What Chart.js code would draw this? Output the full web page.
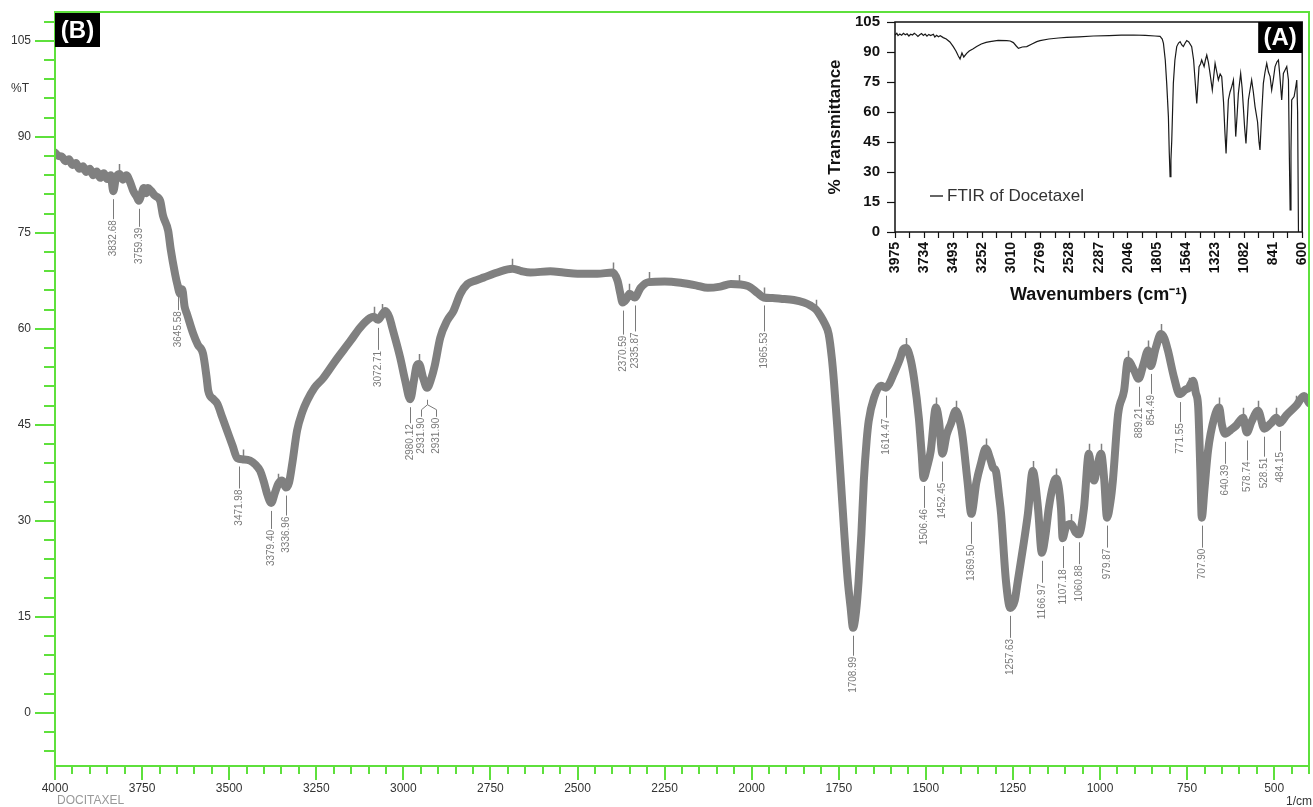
<!DOCTYPE html>
<html>
<head>
<meta charset="utf-8">
<title>FTIR of Docetaxel</title>
<script src="https://cdn.jsdelivr.net/npm/chart.js@4.4.1/dist/chart.umd.min.js"></script>
<style>
  html, body { margin: 0; padding: 0; background: #fff; }
  #wrap { position: relative; width: 1313px; height: 807px; overflow: hidden; }
  #mainChart { position: absolute; left: 0; top: 0; }
  #insetChart { position: absolute; left: 815px; top: 6px; }
</style>
</head>
<body>
<div id="wrap">
  <canvas id="mainChart" width="1313" height="807"></canvas>
  <canvas id="insetChart" width="508" height="308"></canvas>
</div>
<script>
// (B) main spectrum (cm-1, %T)
const mainWavenumber = [
  4000, 3990, 3980, 3970, 3960, 3950, 3940, 3930, 3920, 3910, 3900, 3890, 3880, 3870, 3860, 3850, 3840,
  3832.7, 3825, 3815, 3805, 3795, 3785, 3775, 3765, 3759.4, 3752, 3745, 3738, 3733, 3725, 3713, 3698,
  3690, 3675, 3668, 3655, 3649, 3641, 3635, 3628, 3621, 3603, 3590, 3575, 3565, 3560, 3545, 3534, 3520,
  3506, 3490, 3477, 3460, 3440, 3425, 3411, 3400, 3391, 3379.4, 3368, 3359, 3348, 3337, 3328, 3319, 3305,
  3290, 3276, 3255, 3230, 3195, 3152, 3124, 3095, 3085, 3072.7, 3060, 3052, 3040, 3032, 3009, 2995,
  2980.1, 2970, 2962, 2955, 2943, 2931.9, 2920, 2910, 2894, 2874, 2856, 2836, 2816, 2790, 2770, 2730,
  2687, 2660, 2635, 2578, 2540, 2500, 2443, 2399, 2385, 2377, 2370.6, 2360, 2351, 2335.9, 2319, 2296,
  2250, 2204, 2160, 2126, 2090, 2060, 2011, 1983, 1965.5, 1940, 1917, 1879, 1850, 1830, 1815, 1802,
  1790, 1779, 1770, 1764, 1754, 1744, 1734, 1724, 1716, 1709, 1700, 1693, 1685, 1678, 1670, 1664, 1649,
  1629, 1614.5, 1605, 1592, 1575, 1565, 1557, 1545, 1534, 1520, 1512, 1506.5, 1496, 1486, 1471, 1462,
  1452.5, 1440, 1428, 1414, 1400, 1394, 1380, 1369.5, 1355, 1342, 1328, 1314, 1307, 1299, 1290, 1284,
  1270, 1257.6, 1245, 1236, 1221, 1207, 1193, 1178, 1167, 1156, 1147, 1135, 1126, 1112, 1107.2, 1098,
  1083, 1070, 1060.9, 1046, 1032, 1024, 1017, 1008, 997, 988, 979.9, 970, 963, 948, 931, 920, 902,
  889.2, 875, 862, 854.5, 840, 825, 815, 805, 787, 771.6, 755, 745, 733, 725, 718, 712, 707.9, 700, 690,
  672, 658, 650, 640.4, 625, 609, 589, 578.7, 565, 546, 528.5, 510, 494, 484.2, 465, 437, 414, 400
];
const mainTransmittance = [
  87.5, 87.0, 86.9, 86.2, 86.5, 85.6, 85.9, 85.0, 85.4, 84.5, 85.0, 84.0, 84.6, 83.6, 84.3, 83.4, 84.0,
  81.5, 83.6, 84.2, 83.3, 84.0, 83.0, 81.5, 80.6, 80.0, 81.0, 82.0, 81.2, 82.0, 81.6, 80.8, 80.0,
  77.7, 75.3, 72.5, 68.5, 67.0, 65.5, 66.2, 63.5, 62.3, 59.2, 57.5, 56.1, 52.5, 50.3, 49.0, 48.3, 46.2,
  44.1, 41.7, 39.8, 39.6, 39.4, 38.8, 37.8, 36.0, 34.2, 32.8, 34.5, 35.8, 36.3, 35.2, 36.0, 38.9, 44.1,
  47.0, 48.8, 50.8, 52.3, 55.0, 58.1, 60.2, 61.7, 61.9, 61.4, 62.3, 62.8, 61.8, 60.2, 55.5, 52.0,
  49.0, 51.8, 54.2, 54.5, 52.3, 50.8, 52.2, 54.2, 58.6, 61.3, 62.8, 65.5, 67.0, 67.6, 68.0, 68.8,
  69.4, 69.0, 68.8, 69.0, 68.8, 68.6, 68.6, 68.8, 67.5, 65.5, 64.1, 64.6, 65.5, 64.9, 66.4, 67.3,
  67.4, 67.2, 66.8, 66.4, 66.6, 67.0, 66.7, 65.6, 64.9, 64.8, 64.7, 64.5, 64.1, 63.6, 63.0, 62.0,
  60.8, 59.2, 55.5, 51.9, 44.5, 36.3, 28.0, 20.6, 16.5, 13.3, 16.0, 20.6, 28.0, 36.3, 42.5, 45.6, 49.2,
  51.1, 50.8, 51.4, 53.0, 55.2, 56.8, 57.0, 55.5, 52.3, 46.0, 40.5, 36.7, 38.5, 40.9, 47.7, 45.5,
  40.5, 43.5, 45.2, 47.2, 45.0, 43.0, 36.0, 31.1, 36.0, 38.9, 41.3, 39.5, 38.3, 37.8, 34.0, 31.1,
  20.6, 16.4, 17.5, 20.6, 25.8, 31.1, 37.8, 32.0, 25.0, 28.0, 32.0, 35.5, 36.6, 32.0, 27.3, 29.0,
  29.5, 28.2, 27.9, 32.0, 40.5, 37.5, 36.3, 38.5, 40.5, 36.5, 30.5, 33.0, 36.3, 46.7, 50.3, 55.0, 53.5,
  52.2, 54.5, 56.6, 54.2, 57.0, 59.2, 58.5, 56.6, 52.3, 49.8, 50.5, 50.8, 51.9, 50.0, 47.7, 38.0, 30.5, 35.0, 40.9,
  46.1, 47.7, 45.0, 43.6, 44.2, 44.9, 46.1, 43.8, 45.5, 47.2, 44.4, 45.2, 46.1, 45.3, 46.5, 48.0, 49.5, 48.4
];

// (A) inset spectrum
const insetWavenumber = [
  3975, 3960, 3950, 3935, 3920, 3905, 3890, 3875, 3860, 3845, 3830, 3815, 3800, 3785, 3770, 3755, 3740,
  3725, 3710, 3695, 3680, 3657, 3645, 3630, 3615, 3600, 3575, 3550, 3520,
  3492, 3470, 3450, 3436, 3420, 3405, 3381, 3360, 3330, 3298, 3260, 3220, 3188, 3120, 3049, 3020, 2994,
  2970, 2952, 2920, 2883, 2840, 2800, 2773, 2700, 2620, 2552, 2450, 2331, 2200, 2100, 1999, 1900, 1820,
  1778, 1760, 1750, 1735, 1723, 1709, 1702, 1695, 1688, 1681, 1668, 1655, 1640, 1625, 1612, 1598, 1585,
  1570, 1557, 1540, 1516, 1500, 1488, 1474, 1463, 1455, 1443, 1433, 1413, 1402, 1391, 1378, 1364, 1345,
  1333, 1322, 1308, 1295, 1280, 1267, 1252, 1240, 1231, 1220, 1212, 1198, 1184, 1170, 1160, 1151, 1140,
  1129, 1110, 1098, 1088, 1077, 1066, 1056, 1046, 1030, 1019, 1005, 991, 970, 958, 950, 935, 922, 908,
  894, 880, 866, 853, 840, 825, 810, 797, 785, 770, 763, 756, 742, 728, 714, 707, 700, 693, 687, 667,
  655, 645, 638, 631
];
const insetTransmittance = [
  98.5, 99.4, 98.2, 99.0, 98.4, 99.3, 98.6, 99.1, 98.0, 98.9, 98.5, 99.4, 98.7, 97.8, 98.6, 99.2, 98.3,
  99.0, 97.9, 98.8, 98.2, 98.9, 97.5, 98.4, 97.6, 98.1, 97.2, 96.5, 95.0,
  92.7, 90.5, 88.0, 86.5, 89.5, 87.5, 89.3, 90.5, 91.5, 92.7, 94.0, 94.8, 95.2, 95.8, 95.7, 95.5, 94.7,
  93.0, 91.8, 92.5, 92.7, 94.0, 95.2, 95.7, 96.5, 97.0, 97.3, 97.6, 98.0, 98.2, 98.4, 98.5, 98.3, 98.0,
  97.8, 96.5, 94.3, 86.0, 74.3, 57.7, 40.0, 27.7, 36.0, 46.0, 74.3, 86.0, 92.7, 94.5, 95.2, 93.5, 92.7,
  94.5, 95.7, 95.0, 92.7, 86.0, 76.0, 64.3, 75.0, 82.7, 84.0, 86.0, 82.7, 86.0, 88.5, 85.0, 79.3, 71.0,
  78.0, 84.3, 80.0, 76.0, 79.0, 77.7, 65.0, 49.3, 39.3, 55.0, 66.0, 70.0, 72.7, 76.0, 62.0, 47.7, 58.0,
  69.3, 79.3, 72.0, 62.7, 52.0, 44.3, 55.0, 66.0, 72.0, 76.0, 70.0, 62.7, 55.0, 45.0, 41.0, 60.0, 74.3, 80.0,
  84.3, 80.0, 77.7, 71.0, 76.0, 82.7, 85.0, 86.0, 78.0, 66.0, 72.0, 79.3, 81.0, 82.7, 76.0, 40.0, 11.0, 40.0, 66.0, 67.7,
  72.0, 76.0, 60.0, 0
];

const mainXTickLabels = [4000, 3750, 3500, 3250, 3000, 2750, 2500, 2250, 2000, 1750, 1500, 1250, 1000, 750, 500];
const mainYTickLabels = [0, 15, 30, 45, 60, 75, 90, 105];
const insetXTickLabels = [3975, 3734, 3493, 3252, 3010, 2769, 2528, 2287, 2046, 1805, 1564, 1323, 1082, 841, 600];
const insetYTickLabels = [0, 15, 30, 45, 60, 75, 90, 105];

// peak labels of (B) and the length of their leader lines
const peakWavenumber = [3832.68, 3759.39, 3645.58, 3471.98, 3379.40, 3336.96, 3072.71, 2980.12, 2370.59, 2335.87,
  1965.53, 1708.99, 1614.47, 1506.46, 1452.45, 1369.50, 1257.63, 1166.97, 1107.18, 1060.88, 979.87,
  889.21, 854.49, 771.55, 707.90, 640.39, 578.74, 528.51, 484.15];
const peakLead = [20, 18, 14, 22, 18, 20, 22, 16, 24, 26, 26, 20, 22, 22, 20, 22, 22, 22, 22, 22, 22,
  20, 20, 20, 22, 22, 20, 20, 20];
const forkWavenumber = 2931.90;
// little marker ticks sitting on top of the trace
const markWavenumber = [3815, 3641, 3460, 3359, 3085, 3060, 2955, 2687, 2399, 2351, 2296, 2036, 1965.5, 1815,
  1557, 1471, 1414, 1342, 1328, 1193, 1126, 1083, 1032, 997, 920, 862, 825, 745, 658, 589, 546, 494, 437];

const GREEN = '#5ee03c';
const FONT = '"Liberation Sans", Arial, sans-serif';
const CLEAR = 'rgba(0,0,0,0)';

function valueAt(wn) {
  for (let i = 0; i < mainWavenumber.length - 1; i++) {
    const a = mainWavenumber[i], b = mainWavenumber[i + 1];
    if (wn <= a && wn >= b) {
      const t = (a - wn) / (a - b);
      return mainTransmittance[i] + t * (mainTransmittance[i + 1] - mainTransmittance[i]);
    }
  }
  return mainTransmittance[mainTransmittance.length - 1];
}

function vLabel(ctx, text, x, y) {
  ctx.save();
  ctx.translate(x, y);
  ctx.rotate(-Math.PI / 2);
  ctx.textAlign = 'right';
  ctx.textBaseline = 'middle';
  ctx.fillText(text, 0, 0);
  ctx.restore();
}

const mainDecor = {
  id: 'mainDecor',
  afterDraw(chart) {
    const { ctx, chartArea: a, scales: { x, y } } = chart;
    ctx.save();

    // green frame and tick marks
    ctx.strokeStyle = GREEN;
    ctx.lineWidth = 2;
    ctx.strokeRect(a.left, a.top, a.right - a.left, a.bottom - a.top);
    ctx.beginPath();
    for (let v = -6; v <= 108; v += 3) {
      const py = Math.round(y.getPixelForValue(v));
      const len = v % 15 === 0 ? 20 : 11;
      ctx.moveTo(a.left - len, py);
      ctx.lineTo(a.left, py);
    }
    for (let v = 400; v <= 4000; v += 50) {
      const px = Math.round(x.getPixelForValue(v));
      const len = v % 250 === 0 ? 14 : 8;
      ctx.moveTo(px, a.bottom);
      ctx.lineTo(px, a.bottom + len);
    }
    ctx.stroke();

    // marker ticks on the trace
    ctx.strokeStyle = '#808080';
    ctx.lineWidth = 1.5;
    ctx.beginPath();
    markWavenumber.forEach(wn => {
      const px = Math.round(x.getPixelForValue(wn)) + 0.5;
      const py = y.getPixelForValue(valueAt(wn));
      ctx.moveTo(px, py - 10);
      ctx.lineTo(px, py);
    });
    ctx.stroke();

    // peak labels
    ctx.strokeStyle = '#7a7a7a';
    ctx.fillStyle = '#7a7a7a';
    ctx.lineWidth = 1;
    ctx.font = '10px ' + FONT;
    peakWavenumber.forEach((wn, i) => {
      const px = Math.round(x.getPixelForValue(wn)) + 0.5;
      const y0 = y.getPixelForValue(valueAt(wn)) + 8;
      const y1 = y0 + peakLead[i];
      ctx.beginPath();
      ctx.moveTo(px, y0);
      ctx.lineTo(px, y1);
      ctx.stroke();
      vLabel(ctx, wn.toFixed(2), px, y1 + 1);
    });

    // forked label (two entries at the same band)
    const fx = Math.round(x.getPixelForValue(forkWavenumber)) + 0.5;
    const fy = y.getPixelForValue(valueAt(forkWavenumber)) + 12;
    ctx.beginPath();
    ctx.moveTo(fx, fy);
    ctx.lineTo(fx, fy + 5);
    ctx.lineTo(fx - 6, fy + 10);
    ctx.lineTo(fx - 6, fy + 17);
    ctx.moveTo(fx, fy + 5);
    ctx.lineTo(fx + 9, fy + 10);
    ctx.lineTo(fx + 9, fy + 17);
    ctx.stroke();
    vLabel(ctx, forkWavenumber.toFixed(2), fx - 6, fy + 18);
    vLabel(ctx, forkWavenumber.toFixed(2), fx + 9, fy + 18);

    // panel tag
    ctx.fillStyle = '#000';
    ctx.fillRect(a.left, a.top + 1, 45, 34);
    ctx.fillStyle = '#fff';
    ctx.font = 'bold 24px ' + FONT;
    ctx.textAlign = 'center';
    ctx.textBaseline = 'middle';
    ctx.fillText('(B)', a.left + 22.5, a.top + 19);

    // axis captions
    ctx.font = '12px ' + FONT;
    ctx.fillStyle = '#333';
    ctx.textAlign = 'left';
    ctx.fillText('%T', 11, y.getPixelForValue(97.5));
    ctx.fillStyle = '#999';
    ctx.fillText('DOCITAXEL', 57, 801);
    ctx.fillStyle = '#333';
    ctx.textAlign = 'right';
    ctx.fillText('1/cm', 1312, 802);
    ctx.restore();
  }
};

new Chart(document.getElementById('mainChart'), {
  type: 'line',
  data: {
    datasets: [{
      data: mainWavenumber.map((w, i) => ({ x: w, y: mainTransmittance[i] })),
      borderColor: '#808080',
      borderWidth: 8,
      borderJoinStyle: 'round',
      borderCapStyle: 'round',
      pointRadius: 0,
      cubicInterpolationMode: 'monotone',
      fill: false
    }]
  },
  options: {
    responsive: false,
    animation: false,
    layout: { padding: { top: 12, right: 4, left: 0, bottom: 0 } },
    plugins: { legend: { display: false }, tooltip: { enabled: false } },
    scales: {
      x: {
        type: 'linear',
        reverse: true,
        min: 400,
        max: 4000,
        afterBuildTicks: s => { s.ticks = mainXTickLabels.map(v => ({ value: v })); },
        afterFit: s => { s.height = 41; },
        grid: { display: false },
        border: { display: false },
        ticks: {
          autoSkip: false, maxRotation: 0, padding: 7, color: '#333',
          font: { family: FONT, size: 12 }, callback: v => String(v)
        }
      },
      y: {
        min: -8.3,
        max: 109.5,
        afterBuildTicks: s => { s.ticks = mainYTickLabels.map(v => ({ value: v })); },
        afterFit: s => { s.width = 55; },
        grid: { display: true, drawOnChartArea: false, tickLength: 24, tickColor: CLEAR, color: CLEAR },
        border: { display: false },
        ticks: { autoSkip: false, padding: 0, color: '#333', font: { family: FONT, size: 12 }, callback: v => String(v) }
      }
    }
  },
  plugins: [mainDecor]
});

const insetDecor = {
  id: 'insetDecor',
  afterDraw(chart) {
    const { ctx, chartArea: a } = chart;
    ctx.save();
    ctx.strokeStyle = '#111';
    ctx.lineWidth = 1.5;
    ctx.strokeRect(a.left, a.top, a.right - a.left, a.bottom - a.top);

    // legend entry
    ctx.strokeStyle = '#333';
    ctx.beginPath();
    ctx.moveTo(a.left + 35, a.top + 174);
    ctx.lineTo(a.left + 48, a.top + 174);
    ctx.stroke();
    ctx.fillStyle = '#333';
    ctx.font = '17px ' + FONT;
    ctx.textAlign = 'left';
    ctx.textBaseline = 'middle';
    ctx.fillText('FTIR of Docetaxel', a.left + 52, a.top + 174);

    // panel tag
    ctx.fillStyle = '#000';
    ctx.fillRect(a.right - 44, a.top, 44, 31);
    ctx.fillStyle = '#fff';
    ctx.font = 'bold 24px ' + FONT;
    ctx.textAlign = 'center';
    ctx.fillText('(A)', a.right - 22, a.top + 16);
    ctx.restore();
  }
};

new Chart(document.getElementById('insetChart'), {
  type: 'line',
  data: {
    datasets: [{
      data: insetWavenumber.map((w, i) => ({ x: w, y: insetTransmittance[i] })),
      borderColor: '#1a1a1a',
      borderWidth: 1.2,
      pointRadius: 0,
      tension: 0,
      fill: false
    }]
  },
  options: {
    responsive: false,
    animation: false,
    layout: { padding: 0 },
    plugins: { legend: { display: false }, tooltip: { enabled: false } },
    scales: {
      x: {
        type: 'linear',
        reverse: true,
        min: 600,
        max: 3975,
        afterBuildTicks: s => {
          const t = [];
          insetXTickLabels.forEach((v, i) => {
            t.push({ value: v });
            if (i < insetXTickLabels.length - 1) t.push({ value: (v + insetXTickLabels[i + 1]) / 2 });
          });
          s.ticks = t;
        },
        afterFit: s => { s.height = 82; },
        grid: { drawOnChartArea: false, tickLength: 6, color: '#111', tickWidth: 1.2 },
        border: { display: false },
        ticks: {
          autoSkip: false, minRotation: 90, maxRotation: 90, padding: 4, color: '#111',
          font: { family: FONT, size: 14, weight: 'bold' },
          callback: v => insetXTickLabels.includes(v) ? String(v) : ''
        },
        title: {
          display: true, text: 'Wavenumbers (cm\u207B\u00B9)', color: '#111',
          font: { family: FONT, size: 18, weight: 'bold' }, padding: { top: 0, bottom: 8 }
        }
      },
      y: {
        min: 0,
        max: 105,
        afterBuildTicks: s => { s.ticks = insetYTickLabels.map(v => ({ value: v })); },
        afterFit: s => { s.width = 80; },
        grid: { drawOnChartArea: false, tickLength: 8, color: '#111', tickWidth: 1.2 },
        border: { display: false },
        ticks: { autoSkip: false, padding: 7, color: '#111', font: { family: FONT, size: 15, weight: 'bold' } },
        title: {
          display: true, text: '% Transmittance', color: '#111',
          font: { family: FONT, size: 17, weight: 'bold' }, padding: { top: 10, bottom: 0 }
        }
      }
    }
  },
  plugins: [insetDecor]
});
</script>
</body>
</html>
